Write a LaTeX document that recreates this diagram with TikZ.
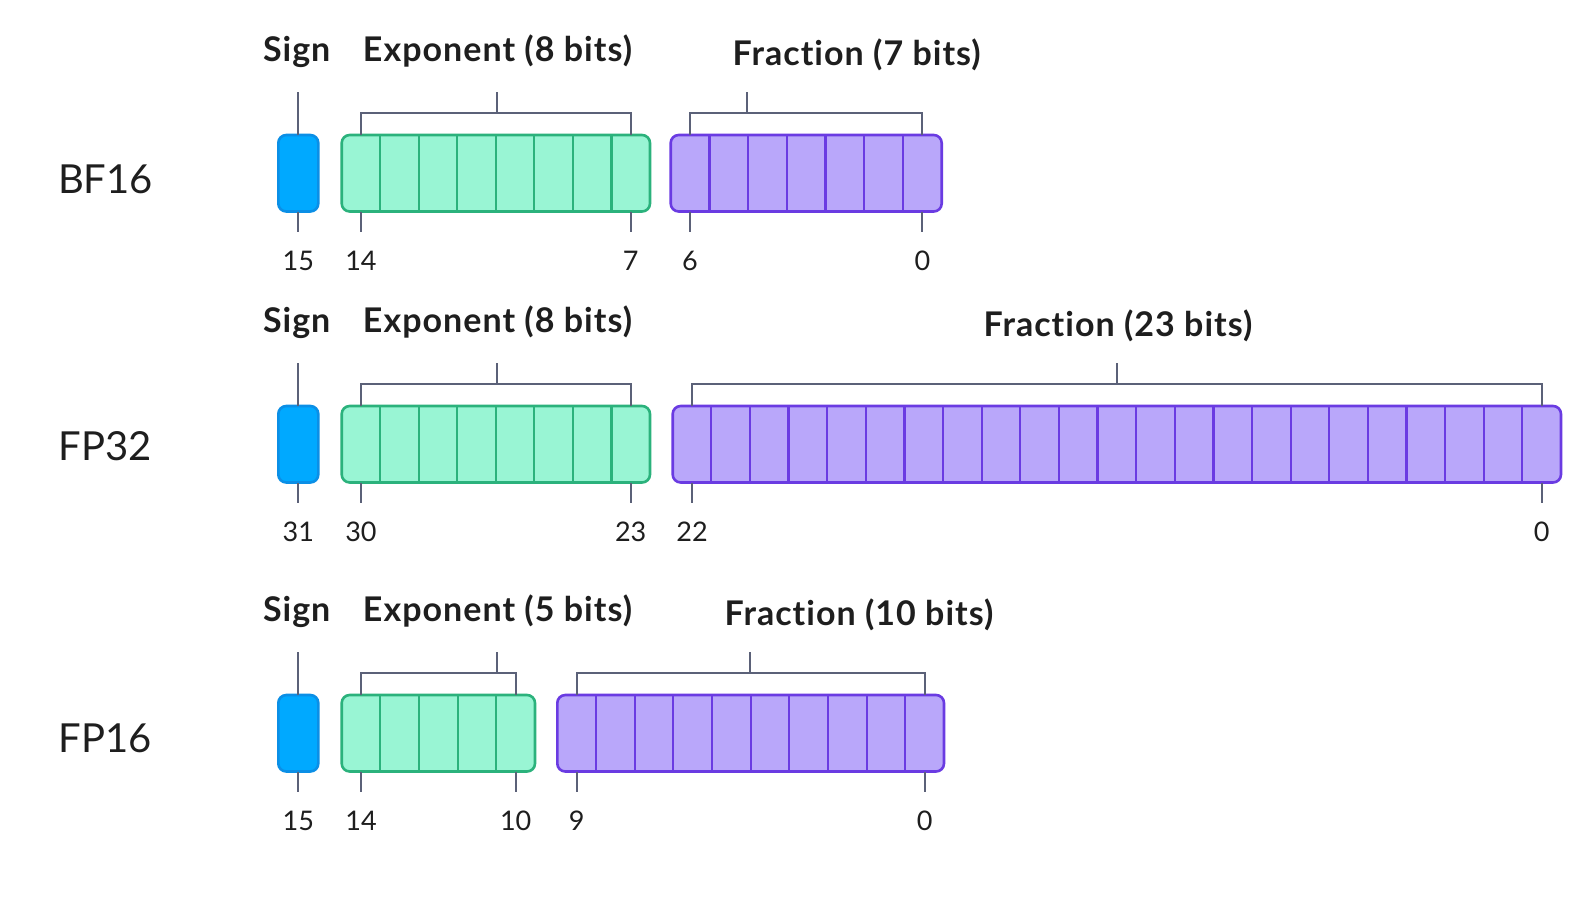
\documentclass[tikz,border=0pt]{standalone}
\usepackage{fontspec}
\setmainfont{Lato}
\newfontfamily\headfont[LetterSpace=3.0,Ligatures={NoCommon}]{Lato}
\usetikzlibrary{calc}
\definecolor{signfill}{HTML}{00A9FF}
\definecolor{signdraw}{HTML}{0B8FE6}
\definecolor{expfill}{HTML}{99F5D4}
\definecolor{expdraw}{HTML}{2BB27C}
\definecolor{fracfill}{HTML}{B9A7FA}
\definecolor{fracdraw}{HTML}{6A3BE2}
\definecolor{brkcol}{HTML}{5B6178}
\definecolor{txt}{HTML}{1E1E1E}

% #1 name, #2 kind (exp/frac), #3 left x, #4 right x, #5 top y, #6 cells, #7 tick x, #8 left number, #9 right number
\newcommand\bitfield[9]{%
  \pgfmathsetmacro\fw{#4-#3}%
  \pgfmathsetmacro\fc{(#3+#4)/2}%
  \pgfmathsetmacro\cw{(#4-#3)/#6}%
  \pgfmathsetmacro\xa{#3+\cw/2}%
  \pgfmathsetmacro\xb{#4-\cw/2}%
  \pgfmathsetmacro\ym{#5+38.25}%
  \pgfmathtruncatemacro\nm{#6-1}%
  \coordinate (#1-bl) at (\xa,#5-22);
  \coordinate (#1-br) at (\xb,#5-22);
  \coordinate (#1-bt) at (#7,#5-43);
  \coordinate (#1-dl) at (\xa,#5+96.5);
  \coordinate (#1-dr) at (\xb,#5+96.5);
  \node[#2box, minimum width=\fw pt] (#1) at (\fc,\ym) {};
  \draw[brk] (#1-bl |- #1.north) -- (#1-bl) -- (#1-br) -- (#1-br |- #1.north);
  \draw[brk] (#1-bt |- #1-bl) -- (#1-bt);
  \foreach \k in {1,...,\nm}{
    \draw[#2div] ($(#1.north west)+(\k*\cw,0)$) -- ($(#1.south west)+(\k*\cw,0)$);
  }
  \draw[brk] (#1-dl |- #1.south) -- (#1-dl);
  \draw[brk] (#1-dr |- #1.south) -- (#1-dr);
  \node[num] (#1-nl) at (\xa,#5+135) {#8};
  \node[num] (#1-nr) at (\xb,#5+135) {#9};
}
% #1 name, #2 top y, #3 number
\newcommand\signfield[3]{%
  \node[signbox] (#1) at (298.3,#2+38.25) {};
  \coordinate (#1-up) at (298.3,#2-43);
  \coordinate (#1-dn) at (298.3,#2+96.5);
  \draw[brk] (#1.north) -- (#1-up);
  \draw[brk] (#1.south) -- (#1-dn);
  \node[num] (#1-n) at (298.3,#2+135) {#3};
}

\begin{document}
\begin{tikzpicture}[x=1pt,y=-1pt,
  cellbox/.style={rectangle, rounded corners=8pt, line width=2.6pt, inner sep=0pt, outer sep=0pt, minimum height=76.5pt},
  signbox/.style={cellbox, fill=signfill, draw=signdraw, minimum width=40pt},
  expbox/.style={cellbox, fill=expfill, draw=expdraw},
  fracbox/.style={cellbox, fill=fracfill, draw=fracdraw},
  expdiv/.style={draw=expdraw, line width=2.2pt},
  fracdiv/.style={draw=fracdraw, line width=2.2pt},
  brk/.style={draw=brkcol, line width=2pt},
  head/.style={font=\headfont\bfseries\fontsize{34}{40}\selectfont, text=txt, anchor=base, inner sep=0pt},
  num/.style={font=\fontsize{27}{32}\selectfont, text=txt, anchor=base, inner sep=0pt},
  fmt/.style={font=\fontsize{40}{48}\selectfont, text=txt, anchor=base, inner sep=0pt},
]
\useasboundingbox[fill=white] (0,0) rectangle (1596,898);

% ---------- BF16 ----------
\node[fmt] (bf16) at (105.5,193) {BF16};
\node[head] (bf-sign) at (296.7,61) {Sign};
\node[head] (bf-exph) at (497.5,61) {Exponent (8 bits)};
\node[head] (bf-frach) at (856.7,65) {Fraction (7 bits)};
\signfield{bfs}{135}{15}
\bitfield{bfe}{exp}{341.7}{650}{135}{8}{496.7}{14}{7}
\bitfield{bff}{frac}{670.7}{941.7}{135}{7}{747.3}{6}{0}

% ---------- FP32 ----------
\node[fmt] (fp32) at (105.5,460) {FP32};
\node[head] (sp-sign) at (296.7,332) {Sign};
\node[head] (sp-exph) at (497.5,332) {Exponent (8 bits)};
\node[head] (sp-frach) at (1118,336) {Fraction (23 bits)};
\signfield{sps}{406}{31}
\bitfield{spe}{exp}{341.7}{650}{406}{8}{496.7}{30}{23}
\bitfield{spf}{frac}{672.7}{1561}{406}{23}{1117}{22}{0}

% ---------- FP16 ----------
\node[fmt] (fp16) at (105.5,752) {FP16};
\node[head] (hp-sign) at (296.7,621) {Sign};
\node[head] (hp-exph) at (497.5,621) {Exponent (5 bits)};
\node[head] (hp-frach) at (859,625) {Fraction (10 bits)};
\signfield{hps}{695}{15}
\bitfield{hpe}{exp}{341.7}{535}{695}{5}{496.7}{14}{10}
\bitfield{hpf}{frac}{557.3}{944}{695}{10}{750}{9}{0}
\end{tikzpicture}
\end{document}
